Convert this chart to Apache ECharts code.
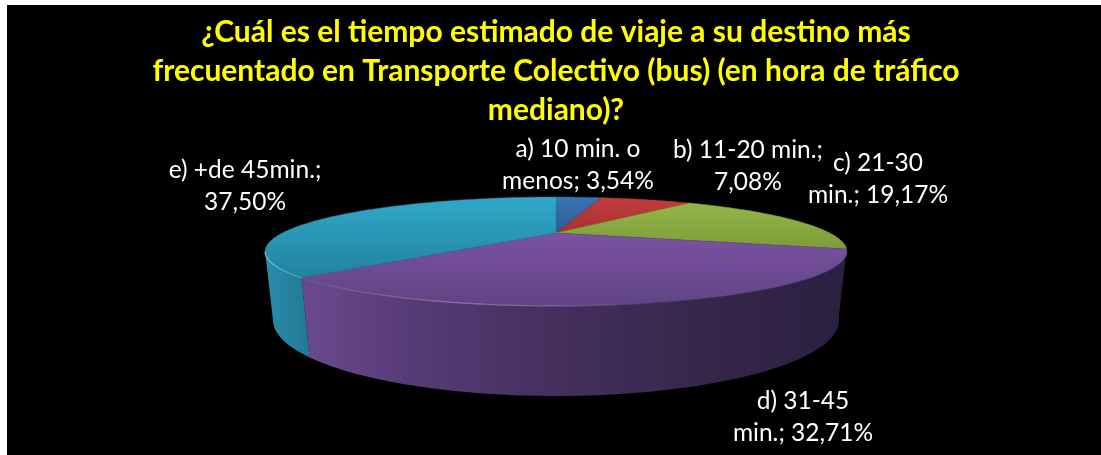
<!DOCTYPE html>
<html>
<head>
<meta charset="utf-8">
<style>
html,body{margin:0;padding:0;background:#fff;width:1101px;height:455px;overflow:hidden}
#chart{position:absolute;left:7px;top:5px;width:1094px;height:450px}
</style>
<script src="https://cdn.jsdelivr.net/npm/echarts@6/dist/echarts.min.js"></script>
</head>
<body>
<div id="chart"></div>
<script>
var titleText = '¿Cuál es el tiempo estimado de viaje a su destino más\nfrecuentado en Transporte Colectivo (bus) (en hora de tráfico\nmediano)?';
var categories = ['a) 10 min. o\nmenos', 'b) 11-20 min.', 'c) 21-30\nmin.', 'd) 31-45\nmin.', 'e) +de 45min.'];
var values = [3.54, 7.08, 19.17, 32.71, 37.50];
var separators = ['; ', ';\n', '; ', '; ', ';\n'];

var topColors = [['#3a74b8','#2b5c90'],['#c43c3c','#a53232'],['#98ba48','#7c9c3a'],['#7c52a2','#5f4484'],['#30a9ca','#23809c']];
var wallStops = [null,null,null,
  [[0,'#6a4a8e'],[0.2,'#573b76'],[0.45,'#46305f'],[0.75,'#35264a'],[1,'#2b2040']],
  [[0,'#2a8cab'],[1,'#217a96']]];
var rimColors = [null,null,null,
  [[0,'rgba(200,160,230,0.2)'],[0.3,'rgba(205,165,235,0.5)'],[0.45,'rgba(200,160,230,0.4)'],[0.65,'rgba(200,160,230,0)'],[1,'rgba(200,160,230,0)']],
  [[0,'rgba(120,220,240,0.8)'],[1,'rgba(120,220,240,0.4)']]];
var labelCenters = [[578,165],[748,166],[878,179],[803,417],[245,186]];

// camera model of the tilted disc (page pixels, offset by the chart container)
var CX = 556-7, CY = 233-5, RX = 273.7, RY = 48.2, K = 0.339, M = 0.025, DROP = 63.6;
function project(deg, r, h){
  var a = deg*Math.PI/180, x = r*Math.sin(a), y = -r*Math.cos(a);
  var w = 1 - K*y + M*h;
  return [CX + RX*x/w, CY + (RY*y + DROP*h)/w];
}
function arc(a0, a1, h){
  var pts = [], n = Math.max(2, Math.ceil(Math.abs(a1-a0)));
  for (var i=0;i<=n;i++) pts.push(project(a0+(a1-a0)*i/n, 1, h));
  return pts;
}
var total = values.reduce(function(s,v){return s+v;},0);
// visible wall spans between the right and left silhouette of the disc
var visFrom = 90 + Math.asin(K)*180/Math.PI, visTo = 270 - Math.asin(K)*180/Math.PI;

function renderItem(params, api){
  var i = params.dataIndex, before = 0;
  for (var j=0;j<i;j++) before += values[j];
  var a0 = before/total*360, a1 = (before+api.value(0))/total*360;
  var kids = [];
  var outer = arc(a0,a1,0);
  var topPts = [project(0,0,0)].concat(outer);
  var L = echarts.graphic.LinearGradient;
  var vFrom = Math.max(a0, visFrom-3), vTo = Math.min(a1, visTo);
  if (wallStops[i] && vTo>vFrom){
    var up = arc(vFrom,vTo,0), dn = arc(vTo,vFrom,1);
    var xs = up.concat(dn).map(function(p){return p[0];});
    var x0 = Math.min.apply(null,xs), x1 = Math.max.apply(null,xs);
    kids.push({type:'polygon',shape:{points:up.concat(dn)},z2:1,
      style:{fill:new L(x0,0,x1,0,wallStops[i].map(function(s){return {offset:s[0],color:s[1]};}),true)}});
  }
  var y0 = i===3 ? project(0,0,0)[1] : project(0,1,0)[1];
  var y1 = i===3 ? project(180,1,0)[1] : project(0,0,0)[1]+ (i===4?47:0)+ (i===2?15:0);
  kids.push({type:'polygon',shape:{points:topPts},z2:2,
    style:{fill:new L(0,y0,0,y1,[{offset:0,color:topColors[i][0]},{offset:1,color:topColors[i][1]}],true),
           stroke:topColors[i][1],lineWidth:0.5}});
  if (rimColors[i]){
    var rim = arc(Math.max(a0,visFrom),Math.min(a1,visTo),0);
    var rx = rim.map(function(p){return p[0];});
    var rx0 = Math.min.apply(null,rx), rx1 = Math.max.apply(null,rx);
    kids.push({type:'polyline',shape:{points:rim},z2:3,
      style:{fill:'none',lineWidth:1.2,
        stroke:new L(rx0,0,rx1,0,rimColors[i].map(function(s){return {offset:s[0],color:s[1]};}),true)}});
  }
  kids.push({type:'text',z2:4,x:labelCenters[i][0]-7,y:labelCenters[i][1]-5,
    style:{text:categories[i]+separators[i]+api.value(0).toFixed(2).replace('.',',')+'%',
      fill:'#fff',font:'24.5px Lato',align:'center',verticalAlign:'middle',lineHeight:31.5}});
  return {type:'group',children:kids};
}
var chart = echarts.init(document.getElementById('chart'));
chart.setOption({
  backgroundColor:'#000',
  animation:false,
  title:{text:titleText,left:544,top:3,textAlign:'center',
    textStyle:{color:'#ffff00',fontFamily:'Lato',fontWeight:'bold',fontSize:30,lineHeight:39}},
  series:[{type:'custom',coordinateSystem:'none',renderItem:renderItem,
    encode:{value:0},data:values.map(function(v){return [v];})}]
});
</script>
</body>
</html>
